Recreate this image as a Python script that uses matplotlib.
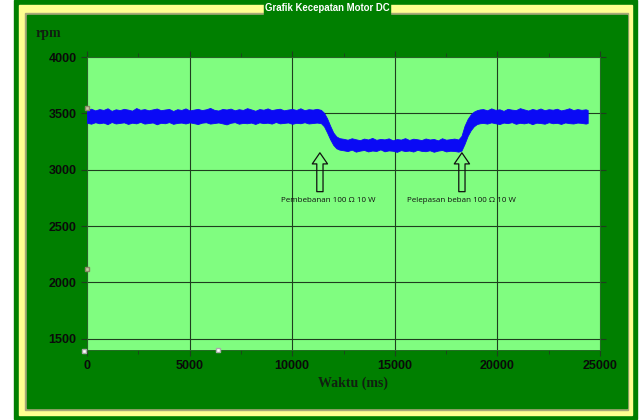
import numpy as np
import matplotlib.pyplot as plt
from matplotlib.patches import Rectangle

# data: time (ms) and the upper / lower edge of the
# noisy rpm trace, in five pieces (high, drop, low, rise, high)
t1 = [0, 200, 400, 600, 800, 1000, 1200, 1400, 1600, 1800, 2000, 2200, 2400,
      2600, 2800, 3000, 3200, 3400, 3600, 3800, 4000, 4200, 4400, 4600, 4800,
      5000, 5200, 5400, 5600, 5800, 6000, 6200, 6400, 6600, 6800, 7000, 7200,
      7400, 7600, 7800, 8000, 8200, 8400, 8600, 8800, 9000, 9200, 9400, 9600,
      9800, 10000, 10200, 10400, 10600, 10800, 11000, 11200, 11400]
hi1 = [3532, 3541, 3526, 3538, 3530, 3545, 3522, 3536, 3529, 3540,
       3533, 3524, 3547, 3531, 3538, 3527, 3535, 3543, 3528, 3534,
       3539, 3521, 3537, 3530, 3544, 3526, 3533, 3540, 3529, 3536,
       3548, 3531, 3525, 3539, 3534, 3542, 3527, 3537, 3530, 3546,
       3535, 3523, 3538, 3532, 3544, 3529, 3536, 3541, 3527, 3534,
       3539, 3530, 3545, 3528, 3537, 3533, 3540, 3531]
lo1 = [3416, 3408, 3421, 3412, 3418, 3404, 3423, 3410, 3415, 3420,
       3406, 3417, 3411, 3424, 3409, 3414, 3419, 3403, 3416, 3412,
       3422, 3407, 3415, 3418, 3410, 3420, 3413, 3405, 3417, 3421,
       3409, 3414, 3419, 3411, 3402, 3416, 3422, 3408, 3415, 3412,
       3418, 3406, 3420, 3413, 3417, 3409, 3423, 3411, 3415, 3419,
       3407, 3416, 3412, 3421, 3410, 3414, 3418, 3413]

t_dn = [11550, 11700, 11850, 12000, 12150, 12300]
hi_dn = [3505, 3455, 3390, 3330, 3295, 3280]
lo_dn = [3385, 3330, 3270, 3220, 3190, 3178]

t2 = [12500, 12700, 12900, 13100, 13300, 13500, 13700, 13900, 14100, 14300,
      14500, 14700, 14900, 15100, 15300, 15500, 15700, 15900, 16100, 16300,
      16500, 16700, 16900, 17100, 17300, 17500, 17700, 17900, 18100]
hi2 = [3274, 3266, 3279, 3270, 3262, 3276, 3268, 3282, 3265, 3273,
       3269, 3278, 3261, 3272, 3267, 3280, 3264, 3275, 3270, 3263,
       3277, 3268, 3273, 3260, 3279, 3266, 3271, 3276, 3268]
lo2 = [3172, 3165, 3178, 3160, 3169, 3175, 3162, 3170, 3166, 3180,
       3163, 3171, 3168, 3158, 3174, 3165, 3170, 3161, 3176, 3167,
       3164, 3172, 3159, 3169, 3175, 3162, 3168, 3166, 3160]

t_up = [18250, 18400, 18550, 18700, 18850, 19000, 19150]
hi_up = [3300, 3390, 3450, 3490, 3515, 3528, 3535]
lo_up = [3170, 3230, 3300, 3350, 3385, 3405, 3412]

t3 = [19300, 19500, 19700, 19900, 20100, 20300, 20500, 20700, 20900, 21100,
      21300, 21500, 21700, 21900, 22100, 22300, 22500, 22700, 22900, 23100,
      23300, 23500, 23700, 23900, 24100, 24300, 24400]
hi3 = [3538, 3527, 3544, 3531, 3536, 3522, 3540, 3533, 3529, 3546,
       3535, 3525, 3539, 3530, 3543, 3528, 3537, 3532, 3541, 3526,
       3534, 3545, 3529, 3538, 3531, 3536, 3530]
lo3 = [3415, 3409, 3420, 3412, 3405, 3418, 3413, 3422, 3407, 3416,
       3411, 3419, 3404, 3417, 3414, 3408, 3421, 3412, 3416, 3406,
       3419, 3413, 3410, 3418, 3415, 3409, 3414]

t_ms = t1 + t_dn + t2 + t_up + t3
rpm_hi = hi1 + hi_dn + hi2 + hi_up + hi3
rpm_lo = lo1 + lo_dn + lo2 + lo_up + lo3

x_ticks = [0, 5000, 10000, 15000, 20000, 25000]
y_ticks = [1500, 2000, 2500, 3000, 3500, 4000]

notes = ['Pembebanan 100 \u03a9 10 W', 'Pelepasan beban 100 \u03a9 10 W']
note_t = [11350, 18270]

dark = '#007f00'
light = '#80fd80'
yellow = '#ffff90'

fig = plt.figure(figsize=(6.39, 4.2), dpi=100)
fig.set_facecolor('white')

W, H = 639.0, 420.0
def frect(x0, y0, x1, y1, c):
    # rectangle in pixel coords, y from top
    fig.patches.append(Rectangle((x0 / W, 1 - y1 / H), (x1 - x0) / W, (y1 - y0) / H,
                                 transform=fig.transFigure, color=c, zorder=-10))

frect(14, 0, 637, 419, dark)
frect(19, 5, 632, 415, yellow)
frect(25, 13, 628, 410, '#a8a878')
frect(27, 15, 627, 408, dark)
frect(264, 1, 390, 15, dark)
fig.text(327 / W, 1 - 8 / H, 'Grafik Kecepatan Motor DC', color='white',
         fontsize=6.9, fontweight='bold', ha='center', va='center',
         family='Liberation Sans')

ax = fig.add_axes([87 / W, 1 - 350 / H, (600 - 87) / W, (350 - 57) / H])
ax.set_zorder(1)
ax.set_facecolor(light)
ax.fill_between(t_ms, rpm_lo, rpm_hi, color='#0a0af5', lw=0.6, zorder=3)

ax.set_xlim(0, 25000)
ax.set_ylim(1400, 4000)
ax.set_xticks(x_ticks)
ax.set_yticks(y_ticks)
ax.set_xticks([2500, 7500, 12500, 17500, 22500], minor=True)
ax.grid(True, color='#1e3e1e', lw=0.8)
ax.tick_params(which='both', direction='out', length=4, color='#1e3e1e',
               top=True, right=True, labelsize=9, labelcolor='#0a0a0a')
ax.tick_params(which='minor', length=3)
for lab in ax.get_xticklabels() + ax.get_yticklabels():
    lab.set_fontweight('bold')
    lab.set_family('Liberation Sans')
for s in ax.spines.values():
    s.set_color('#2a6a2a')
    s.set_linewidth(0.6)

# load / unload arrows and labels
for t, txt in zip(note_t, notes):
    ax.annotate('', xy=(t, 3150), xytext=(t, 2805),
                arrowprops=dict(arrowstyle='simple,head_width=1.1,head_length=0.8,tail_width=0.45',
                                fc='none', ec='#101010', lw=0.9, shrinkA=0, shrinkB=0),
                zorder=4)
for t, txt, dx in zip(note_t, notes, [400, 0]):
    ax.text(t + dx, 2725, txt, fontsize=5.8, ha='center', va='center',
            family='Open Sans', color='#101010', zorder=4)

# cursor handles
ax.plot([0], [3545], marker='s', ms=3, color='#c8c8a8', mec='#888866',
        clip_on=False, zorder=5)
ax.plot([0], [2120], marker='s', ms=3.5, color='#c8c8a8', mec='#888866',
        clip_on=False, zorder=5)
ax.plot([-150], [1395], marker='s', ms=3, color='white', mec='#aaaaaa',
        clip_on=False, zorder=5)
ax.plot([6400], [1400], marker='s', ms=3, color='white', mec='#aaaaaa',
        clip_on=False, zorder=5)

fig.text(48 / W, 1 - 33 / H, 'rpm', fontsize=10, fontweight='bold',
         family='Liberation Serif', color='#102010', ha='center', va='center')
fig.text(353 / W, 1 - 383 / H, 'Waktu (ms)', fontsize=10, fontweight='bold',
         family='Liberation Serif', color='#102010', ha='center', va='center')

plt.savefig('out.png', dpi=100)
